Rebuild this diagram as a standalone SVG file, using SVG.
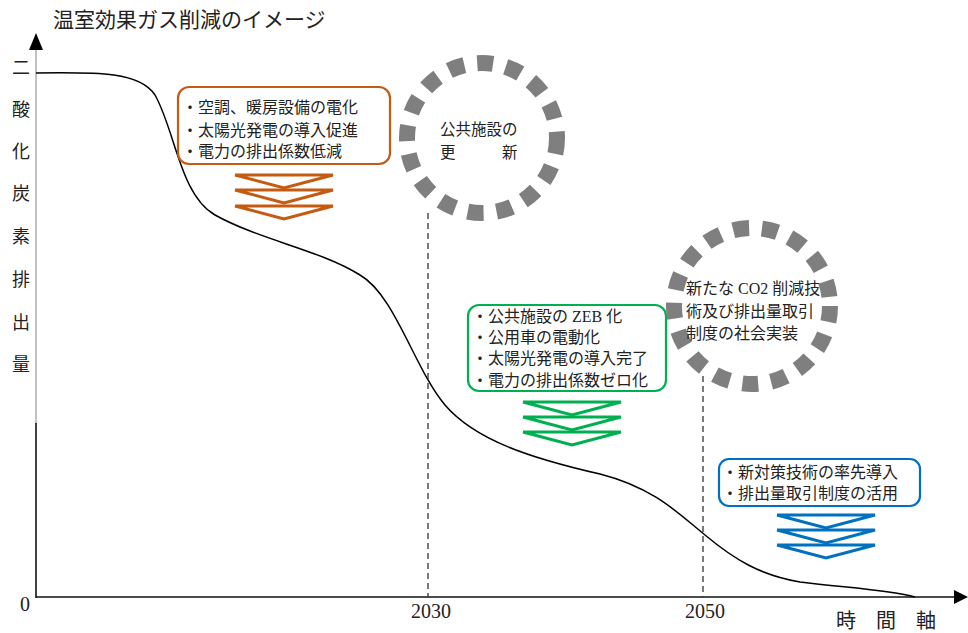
<svg xmlns="http://www.w3.org/2000/svg" width="968" height="633" viewBox="0 0 968 633">
<style>
text{font-family:"Liberation Serif","Noto Sans CJK JP",serif;fill:#222}
.t{font-size:16px}
.box{fill:#fff;stroke-width:2.2}
.chev{fill:none;stroke-width:3;stroke-linejoin:miter}
.ring{fill:none;stroke:#7f7f7f;stroke-width:16;stroke-dasharray:16 13}
.dash{stroke:#333;stroke-width:1.3;stroke-dasharray:6 4;fill:none}
.num{font-size:20px}
</style>
<defs>
<polyline id="chev" points="0,0 98,0 49,13 0,0"/>
</defs>
<rect width="968" height="633" fill="#fff"/>
<text x="53" y="27" style="font-size:21px">温室効果ガス削減のイメージ</text>
<g id="axes">
<line x1="36" y1="48" x2="36" y2="424" stroke="#999" stroke-width="1.2"/>
<line x1="36" y1="423" x2="36" y2="598" stroke="#111" stroke-width="1.6"/>
<polygon points="36,33 29,50 43,50" fill="#000"/>
<line x1="36" y1="597" x2="956" y2="597" stroke="#111" stroke-width="1.6"/>
<polygon points="968,597 954,590 954,604" fill="#000"/>
<g style="font-size:18px" text-anchor="middle">
<text x="21" y="74">二</text><text x="21" y="116">酸</text><text x="21" y="158">化</text><text x="21" y="200">炭</text><text x="21" y="243">素</text><text x="21" y="286">排</text><text x="21" y="329">出</text><text x="21" y="371">量</text>
</g>
<text x="20" y="611" class="num">0</text>
<text x="431" y="618" text-anchor="middle" class="num">2030</text>
<text x="705" y="618" text-anchor="middle" class="num">2050</text>
<text x="836" y="628" style="font-size:20px">時　間　軸</text>
</g>
<g id="connectors">
<path d="M36,73 C100,72 140,72 155,95 C175,130 180,195 215,215 C260,240 320,250 360,275 C395,295 415,370 445,405 C475,440 530,458 600,474 C655,488 680,515 705,535 C735,560 760,575 800,582 C850,588 890,590 915,597" fill="none" stroke="#000" stroke-width="1.5"/>
<line class="dash" x1="428" y1="213" x2="428" y2="597"/>
<line class="dash" x1="703" y1="376" x2="703" y2="597"/>
</g>
<g id="box1">
<rect class="box" x="178" y="87" width="212" height="77" rx="11" stroke="#c55a11"/>
<text class="t" x="182" y="113">・空調、暖房設備の電化</text>
<text class="t" x="182" y="136">・太陽光発電の導入促進</text>
<text class="t" x="182" y="157">・電力の排出係数低減</text>
<g stroke="#c55a11" class="chev">
<use href="#chev" x="235" y="175"/><use href="#chev" x="235" y="190"/><use href="#chev" x="235" y="206"/>
</g>
</g>
<g id="circle1">
<circle class="ring" cx="482" cy="138" r="75"/>
<text class="t" x="440" y="135" style="font-size:15.5px">公共施設の</text>
<text class="t" x="440" y="158" style="font-size:15.5px">更　　　新</text>
</g>
<g id="box2">
<rect class="box" x="468" y="305" width="198" height="86" rx="11" stroke="#00b050"/>
<text class="t" x="472" y="322">・公共施設の ZEB 化</text>
<text class="t" x="472" y="343">・公用車の電動化</text>
<text class="t" x="472" y="364">・太陽光発電の導入完了</text>
<text class="t" x="472" y="386">・電力の排出係数ゼロ化</text>
<g stroke="#00b050" class="chev">
<use href="#chev" x="523" y="402"/><use href="#chev" x="523" y="417"/><use href="#chev" x="523" y="432"/>
</g>
</g>
<g id="circle2">
<circle class="ring" cx="752" cy="306" r="78"/>
<text class="t" x="686" y="294">新たな CO2 削減技</text>
<text class="t" x="686" y="317">術及び排出量取引</text>
<text class="t" x="686" y="339">制度の社会実装</text>
</g>
<g id="box3">
<rect class="box" x="719" y="459" width="201" height="47" rx="10" stroke="#0070c0"/>
<text class="t" x="722" y="478">・新対策技術の率先導入</text>
<text class="t" x="722" y="499">・排出量取引制度の活用</text>
<g stroke="#0070c0" class="chev">
<use href="#chev" x="777" y="515"/><use href="#chev" x="777" y="530"/><use href="#chev" x="777" y="545"/>
</g>
</g>
</svg>
